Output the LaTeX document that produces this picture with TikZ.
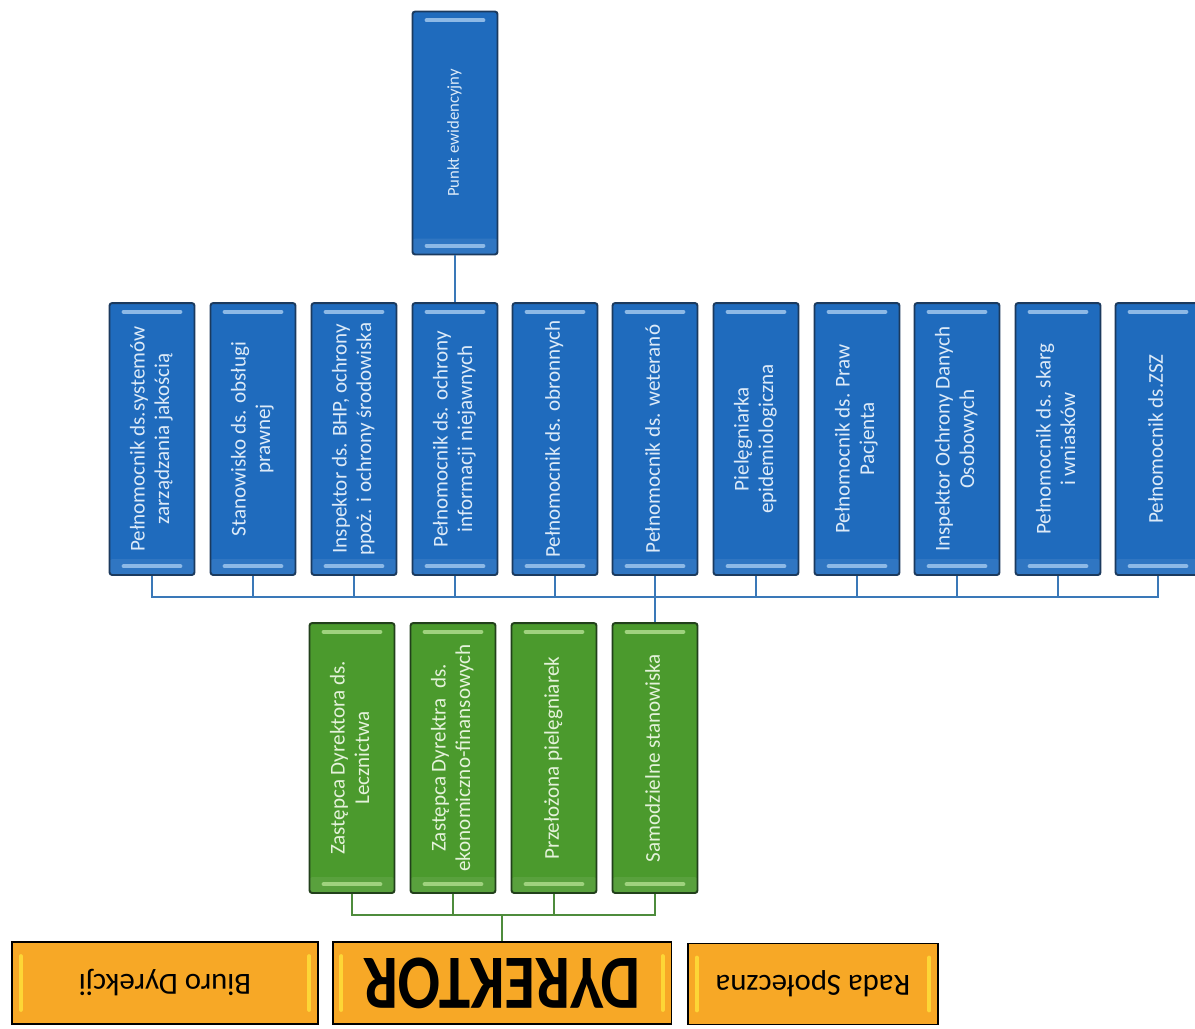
\documentclass[tikz,border=0pt]{standalone}
\usepackage{fontspec}
\setmainfont{Carlito}
\usepackage{graphicx}

\definecolor{boxblue}{HTML}{1F6BBD}
\definecolor{bluerim}{HTML}{1B3A5E}
\definecolor{bluetext}{HTML}{DCEAF8}
\definecolor{bluelite}{HTML}{8DB9E6}
\definecolor{linkblue}{HTML}{3A78B8}
\definecolor{boxgreen}{HTML}{4B9A2D}
\definecolor{greenrim}{HTML}{22401B}
\definecolor{greentext}{HTML}{E4F2DA}
\definecolor{greenlite}{HTML}{9FD27E}
\definecolor{linkgreen}{HTML}{4E8C3C}
\definecolor{boxorange}{HTML}{F7A826}
\definecolor{orangelite}{HTML}{FFE23A}

\newcommand{\vtext}[1]{\rotatebox{90}{\begin{tabular}{@{}c@{}}#1\end{tabular}}}
\newcommand{\utext}[1]{\rotatebox[origin=c]{180}{#1}}

\tikzset{
  hbars/.style={path picture={
      \fill[white,opacity=.08] ([yshift=9pt]path picture bounding box.south west) rectangle (path picture bounding box.south east);
      \draw[#1,line width=2.2pt,line cap=round]
        ([xshift=8pt,yshift=-5pt]path picture bounding box.north west) -- ([xshift=-8pt,yshift=-5pt]path picture bounding box.north east);
      \draw[#1,line width=2.2pt,line cap=round]
        ([xshift=8pt,yshift=5pt]path picture bounding box.south west) -- ([xshift=-8pt,yshift=5pt]path picture bounding box.south east);
  }},
  vbars/.style={path picture={
      \draw[#1,line width=2.2pt,line cap=round,opacity=.8]
        ([xshift=5pt,yshift=-8pt]path picture bounding box.north west) -- ([xshift=5pt,yshift=8pt]path picture bounding box.south west);
      \draw[#1,line width=2.2pt,line cap=round,opacity=.8]
        ([xshift=-5pt,yshift=-8pt]path picture bounding box.north east) -- ([xshift=-5pt,yshift=8pt]path picture bounding box.south east);
  }},
  bluebox/.style={draw=bluerim, line width=1.1pt, fill=boxblue, rounded corners=1.5pt,
    minimum width=1.7cm, minimum height=5.44cm, inner sep=0pt, text=bluetext,
    font=\fontsize{12}{14}\selectfont, hbars=bluelite},
  greenbox/.style={draw=greenrim, line width=1.1pt, fill=boxgreen, rounded corners=1.5pt,
    minimum width=1.7cm, minimum height=5.4cm, inner sep=0pt, text=greentext,
    font=\fontsize{12}{14}\selectfont, hbars=greenlite},
  orangebox/.style={draw=black, line width=1.1pt, fill=boxorange,
    minimum height=1.64cm, inner sep=0pt, text=black,
    font=\fontsize{17.5}{20}\selectfont, vbars=orangelite},
  bluelink/.style={draw=linkblue, line width=1.1pt},
  greenlink/.style={draw=linkgreen, line width=1.1pt}
}

\begin{document}
\begin{tikzpicture}[x=0.02cm, y=-0.02cm]
  \useasboundingbox (0,0) rectangle (1195,1028);

  % kierownictwo
  \node[orangebox, minimum width=6.12cm] (biuro) at (165,983) {\utext{Biuro Dyrekcji}};
  \node[orangebox, minimum width=6.78cm, font=\fontsize{38}{40}\selectfont\bfseries] (dyr) at (502,983) {\utext{\scalebox{0.94}[1.15]{DYREKTOR}}};
  \node[orangebox, minimum width=5cm, minimum height=1.62cm] (rada) at (813,984) {\utext{Rada Społeczna}};

  % piony
  \foreach \i/\x/\t in {1/352/{Zastępca Dyrektora ds.\\Lecznictwa},
                        2/453/{Zastępca Dyrektra \ ds.\\ekonomiczno-finansowych},
                        3/554/{Przełożona pielęgniarek},
                        4/655/{Samodzielne stanowiska}}
    \node[greenbox] (g\i) at (\x,758) {\vtext{\t}};

  % pelnomocnicy
  \foreach \i/\x/\t in {1/152/{Pełnomocnik ds.systemów\\zarządzania jakością},
                        2/253/{Stanowisko ds. obsługi\\prawnej},
                        3/354/{Inspektor ds. BHP, ochrony\\ppoż. i ochrony środowiska},
                        4/455/{Pełnomocnik ds. ochrony\\informacji niejawnych},
                        5/555/{Pełnomocnik ds. obronnych},
                        6/655/{Pełnomocnik ds. weteranó},
                        7/756/{Pielęgniarka\\epidemiologiczna},
                        8/857/{Pełnomocnik ds. Praw\\Pacjenta},
                        9/957/{Inspektor Ochrony Danych\\Osobowych},
                        10/1058/{Pełnomocnik ds. skarg\\i wniasków},
                        11/1158/{Pełnomocnik ds.ZSZ}}
    \node[bluebox] (b\i) at (\x,439) {\vtext{\t}};

  \node[bluebox, minimum height=4.86cm, font=\fontsize{9.5}{11}\selectfont] (pkt) at (455,133) {\raisebox{-0.35cm}{\vtext{Punkt ewidencyjny}}};

  % polaczenia
  \draw[greenlink] (dyr.north) -- ++(0,-26) coordinate (gj);
  \draw[greenlink] (g1.south) |- (gj) -| (g4.south);
  \foreach \i in {2,3}
    \draw[greenlink] (g\i.south) -- (g\i.south |- gj);

  \draw[bluelink] (g4.north) -- ++(0,-25) coordinate (bj);
  \draw[bluelink] (b1.south) |- (bj) -| (b11.south);
  \foreach \i in {2,...,10}
    \draw[bluelink] (b\i.south) -- (b\i.south |- bj);

  \draw[bluelink] (pkt.south) -- (b4.north);
\end{tikzpicture}
\end{document}
